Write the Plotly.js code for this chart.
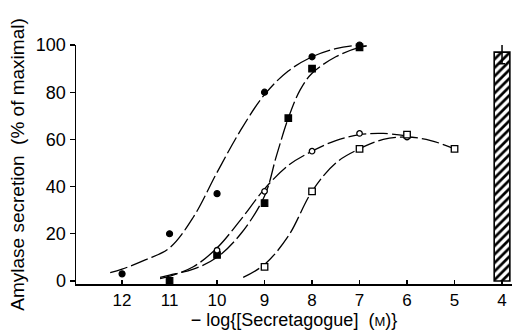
<!DOCTYPE html>
<html><head><meta charset="utf-8">
<script src="https://cdn.plot.ly/plotly-3.0.1.min.js"></script>
<style>html,body{margin:0;padding:0;background:#fff}#c{width:512px;height:330px}</style>
</head><body><div id="c"></div>
<script>
// Data points (x = -log[secretagogue], y = % of maximal)
const fcX = [12, 11, 10, 9, 8, 7];
const fcY = [3, 20, 37, 80, 95, 100];
const fsX = [11, 10, 9, 8.5, 8, 7];
const fsY = [0, 11, 33, 69, 90, 99];
const ocX = [10, 9, 8, 7, 6];
const ocY = [13, 38, 55, 62.5, 61];
const osX = [9, 8, 7, 6, 5];
const osY = [6, 38, 56, 62, 56];
// Fitted curves
const fcCurveX = [12.25, 12, 11.5, 11, 10.5, 10, 9.5, 9, 8.5, 8, 7.5, 7, 6.85];
const fcCurveY = [3.5, 5, 9, 14, 27, 46, 64, 79, 89, 95, 98.5, 100, 100];
const fsCurveX = [11.2, 11, 10.5, 10, 9.5, 9, 8.75, 8.5, 8.25, 8, 7.5, 7, 6.85];
const fsCurveY = [1.5, 2.5, 5, 10, 20, 36, 53, 69, 81, 88, 95, 99, 99.5];
const ocCurveX = [11.2, 11, 10.5, 10, 9.5, 9, 8.5, 8, 7.5, 7, 6.5, 6];
const ocCurveY = [1, 2, 6, 14, 26, 39, 49, 55, 59.5, 62, 62.5, 61.5];
const osCurveX = [9.45, 9, 8.5, 8, 7.5, 7, 6.5, 6, 5.5, 5];
const osCurveY = [1.5, 7, 19, 38, 50, 56, 60, 61, 59.5, 56];
// Bar at 4
const barX = [4];
const barY = [97];
const barErr = [5];
const xTicks = [12, 11, 10, 9, 8, 7, 6, 5, 4];
const yTicks = [0, 20, 40, 60, 80, 100];

const curve = (x, y) => ({x, y, type: 'scatter', mode: 'lines',
  line: {color: '#000', width: 1.3, shape: 'spline', dash: '18px,4px'},
  hoverinfo: 'skip', showlegend: false, cliponaxis: false});
const pts = (x, y, sym, size) => ({x, y, type: 'scatter', mode: 'markers',
  marker: {symbol: sym, size, color: '#000', line: {color: '#000', width: 1.2}},
  showlegend: false, cliponaxis: false});
const open = (x, y, sym, size) => ({x, y, type: 'scatter', mode: 'markers',
  marker: {symbol: sym, size, color: '#fff', line: {color: '#000', width: 1.3}},
  showlegend: false, cliponaxis: false});

const data = [
  {x: barX, y: barY, type: 'bar', width: 0.33,
   marker: {color: '#fff', line: {color: '#000', width: 1.6},
            pattern: {shape: '/', fgcolor: '#000', bgcolor: '#fff', size: 6, solidity: 0.45}},
   error_y: {type: 'data', array: barErr, visible: true, color: '#000', thickness: 1.5, width: 3},
   showlegend: false},
  curve(fcCurveX, fcCurveY), curve(fsCurveX, fsCurveY), curve(ocCurveX, ocCurveY), curve(osCurveX, osCurveY),
  pts(fcX, fcY, 'circle', 6), pts(fsX, fsY, 'square', 6.5),
  open(ocX, ocY, 'circle', 5.5), open(osX, osY, 'square', 6.5)
];

const layout = {
  width: 512, height: 330,
  margin: {l: 76, r: 0, t: 45, b: 46},
  paper_bgcolor: '#fff', plot_bgcolor: '#fff',
  font: {family: 'Liberation Sans, Arial, sans-serif', color: '#000', size: 18},
  xaxis: {range: [12.97, 3.79], tickvals: xTicks, ticktext: xTicks.map(String),
    ticks: 'inside', ticklen: 4, tickwidth: 1.3, tickcolor: '#000',
    showline: true, linecolor: '#000', linewidth: 1.5, showgrid: false, zeroline: false,
    tickfont: {size: 17},
    title: {text: '\u2212 log{[Secretagogue]  (<span style="font-size:13px">M</span>)}', font: {size: 18}, standoff: 3}},
  yaxis: {range: [-1.3, 100], tickvals: yTicks, ticks: 'outside', ticklen: 5, tickwidth: 1.3, tickcolor: '#000',
    showline: true, linecolor: '#000', linewidth: 1.5, showgrid: false, zeroline: false,
    tickfont: {size: 18},
    title: {text: 'Amylase secretion  (% of maximal)', font: {size: 19}, standoff: 6}},
  bargap: 0
};
Plotly.newPlot('c', data, layout, {staticPlot: true, displayModeBar: false});
</script></body></html>
